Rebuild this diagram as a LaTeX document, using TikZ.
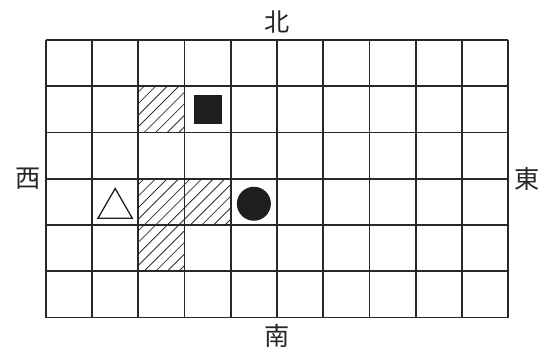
\documentclass[tikz,border=0pt]{standalone}
\usepackage{fontspec}
\newfontfamily\cjkfont{Noto Sans CJK JP}
\usepackage{tikz}
\usetikzlibrary{shapes.geometric, positioning, calc}
\definecolor{gridgray}{RGB}{40,40,40}
\definecolor{hatchgray}{RGB}{50,50,50}
\definecolor{markblack}{RGB}{30,30,30}
\tikzset{
    gridline/.style={draw=gridgray, line width=1pt},
    hatchline/.style={draw=hatchgray, line width=0.5pt},
    dirlabel/.style={font=\cjkfont\fontsize{15.5}{18}\selectfont, inner sep=0pt, text=black!85},
    squaremark/.style={rectangle, fill=markblack, minimum size=0.61cm, inner sep=0pt},
    circlemark/.style={circle, fill=markblack, minimum size=0.735cm, inner sep=0pt},
    trianglemark/.style={regular polygon, regular polygon sides=3, draw=markblack, line width=0.8pt, minimum size=0.86cm, inner sep=0pt},
}

\begin{document}
\begin{tikzpicture}
\useasboundingbox (-0.99,-0.671) rectangle (10.99,6.866);

% hatched cells
\foreach \cx/\cy in {2/4, 2/2, 3/2, 2/1} {
  \begin{scope}
    \clip (\cx,\cy) rectangle ++(1,1);
    \foreach \c in {-0.875,-0.625,...,0.9}
      \draw[hatchline] (\cx+\c,\cy) -- ++(1,1);
  \end{scope}
}

% board
\draw[gridline] (0,0) grid (10,6);
\coordinate (board-sw) at (0,0);
\coordinate (board-ne) at (10,6);
\coordinate (board-c) at ($(board-sw)!0.5!(board-ne)$);

% markers
\node[squaremark] (square) at (3.5,4.5) {};
\node[circlemark] (disc) at (4.5,2.46) {};
\node[trianglemark] (tri) at (1.5,2.36) {};

% compass labels
\node[dirlabel] (north) at ($(board-c |- board-ne)+(0,0.39)$) {北};
\node[dirlabel] (south) at ($(board-c |- board-sw)+(0,-0.39)$) {南};
\node[dirlabel] (west) at ($(board-sw |- board-c)+(-0.39,0)$) {西};
\node[dirlabel] (east) at ($(board-ne |- board-c)+(0.41,0)$) {東};

\end{tikzpicture}
\end{document}
